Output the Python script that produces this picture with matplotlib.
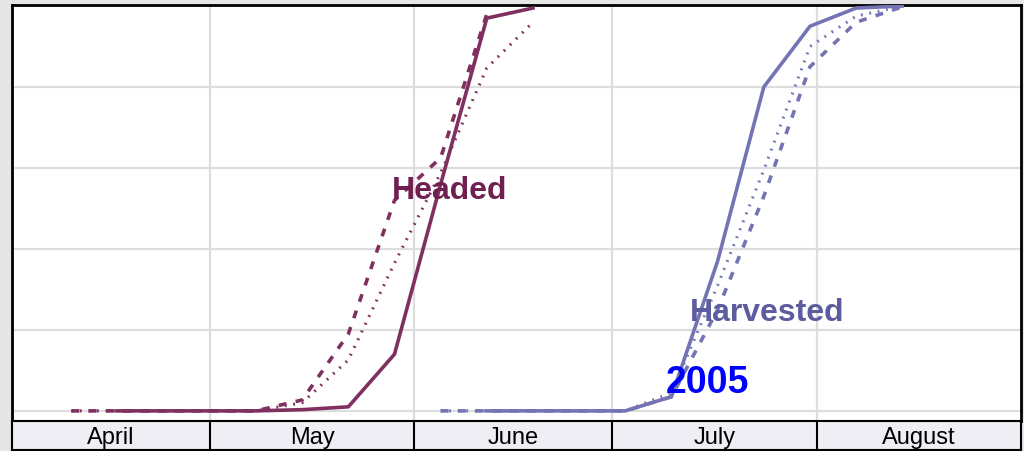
#Crop progress 2005 - percent headed and harvested, weekly, vs previous year and 5-year average
import matplotlib
matplotlib.use('Agg')
import matplotlib.pyplot as plt
import numpy as np

plt.rcParams['font.family'] = ['Liberation Sans', 'DejaVu Sans']

#Days counted from April 1
months = ['April', 'May', 'June', 'July', 'August']
month_start = [0, 30, 61, 91, 122, 153]

#Headed
headed_days = [9, 16, 23, 30, 37, 44, 51, 58, 65, 72, 79]
headed_2005 = [np.nan, 0, 0, 0, 0, 0.3, 1, 14, 56, 97, 99.5]
headed_prev = [0, 0, 0, 0, 0, 2.7, 19, 52, 62.5, 98, np.nan]
headed_avg = [0, 0, 0, 0, 0, 2, 12.6, 36.5, 58.8, 84.7, 96]

#Harvested
harv_days = [65, 72, 79, 86, 93, 100, 107, 114, 121, 128, 135]
harv_2005 = [np.nan, 0, 0, 0, 0, 3.5, 37, 80, 95, 99.5, 100]
harv_prev = [0, 0, 0, 0, 0, 3.5, 25, 53, 85, 96, 99.8]
harv_avg = [0, 0, 0, 0, 0, 4.5, 31, 59.5, 90, 97.5, 100]

headed_color = '#7F3060'
harv_color = '#7474B4'

W, H = 1024, 451
fig = plt.figure(figsize=(W / 100, H / 100), dpi=100)
fig.patch.set_facecolor('#E6E6E6')

#Main plot area
ax = fig.add_axes([12 / W, 1 - 421 / H, 1009 / W, 416 / H])
ax.set_facecolor('white')
ax.set_xlim(0, 153)
ax.set_ylim(-2.5, 100.25)

for v in [0, 20, 40, 60, 80]:
    ax.axhline(v, color='#DDDDDD', lw=1.6, zorder=1)
for d in month_start[1:-1]:
    ax.axvline(d, color='#DDDDDD', lw=1.6, zorder=1)


def plot_set(days, cur, prev, avg, color):
    ax.plot(days, prev, color=color, lw=2.6, dashes=(2.2, 2.6), zorder=3)
    ax.plot(days, avg, color=color, lw=2.2, dashes=(0.6, 2.2), zorder=3)
    ax.plot(days, cur, color=color, lw=2.6, zorder=4)


plot_set(headed_days, headed_2005, headed_prev, headed_avg, headed_color)
plot_set(harv_days, harv_2005, harv_prev, harv_avg, harv_color)

ax.text(66.4, 54.3, 'Headed', color='#702050', fontsize=23, fontweight='bold',
        ha='center', va='center', zorder=5)
ax.text(114.5, 24.2, 'Harvested', color='#5C5C9E', fontsize=23, fontweight='bold',
        ha='center', va='center', zorder=5)
ax.text(105.5, 6.9, '2005', color='#0000FF', fontsize=27, fontweight='bold',
        ha='center', va='center', zorder=5)

ax.set_xticks([])
ax.set_yticks([])
for s in ax.spines.values():
    s.set_linewidth(2)
    s.set_color('black')

#Month band below
band = fig.add_axes([12 / W, 1 - 450 / H, 1009 / W, 29 / H])
band.set_facecolor('#EEEEF4')
band.set_xlim(0, 153)
band.set_ylim(0, 1)
for d in month_start[1:-1]:
    band.axvline(d, color='black', lw=1.5)
for i, m in enumerate(months):
    band.text((month_start[i] + month_start[i + 1]) / 2, 0.42, m, fontsize=17,
              ha='center', va='center', color='black')
band.set_xticks([])
band.set_yticks([])
for s in band.spines.values():
    s.set_linewidth(1.5)
    s.set_color('black')

fig.savefig('out.png', dpi=100, facecolor=fig.get_facecolor())
